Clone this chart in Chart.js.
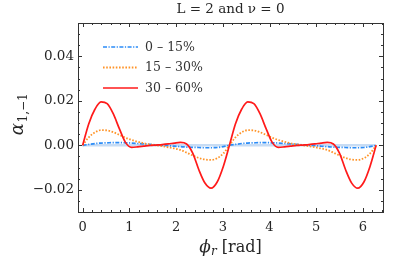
<!DOCTYPE html>
<html>
<head>
<meta charset="utf-8">
<script src="https://cdn.jsdelivr.net/npm/chart.js@4.4.0/dist/chart.umd.min.js"></script>
<style>
  html, body { margin: 0; padding: 0; background: #fff; }
</style>
</head>
<body>
<canvas id="chart" width="407" height="259"></canvas>
<script>
// phi_r samples (rad), step pi/24
const phi = [0, 0.131, 0.262, 0.393, 0.524, 0.654, 0.785, 0.916, 1.047, 1.178, 1.309, 1.440,
  1.571, 1.702, 1.833, 1.963, 2.094, 2.225, 2.356, 2.487, 2.618, 2.749, 2.880, 3.011,
  3.142, 3.272, 3.403, 3.534, 3.665, 3.796, 3.927, 4.058, 4.189, 4.320, 4.451, 4.581,
  4.712, 4.843, 4.974, 5.105, 5.236, 5.367, 5.498, 5.629, 5.760, 5.890, 6.021, 6.152, 6.283];

const cent0to15 = [0, 0.0004, 0.0008, 0.0010, 0.0011, 0.0012, 0.0012, 0.0011, 0.0010, 0.0008, 0.0006, 0.0004,
  0.0002, 0.0000, -0.0002, -0.0004, -0.0006, -0.0008, -0.0009, -0.0010, -0.0011, -0.0011, -0.0010, -0.0006,
  0, 0.0004, 0.0008, 0.0010, 0.0011, 0.0012, 0.0012, 0.0011, 0.0010, 0.0008, 0.0006, 0.0004,
  0.0002, 0.0000, -0.0002, -0.0004, -0.0006, -0.0008, -0.0009, -0.0010, -0.0011, -0.0011, -0.0010, -0.0006, 0];

const cent15to30 = [0, 0.0036, 0.0058, 0.0068, 0.0067, 0.0059, 0.0047, 0.0034, 0.0024, 0.0016, 0.0009, 0.0004,
  0.0000, -0.0004, -0.0009, -0.0014, -0.0021, -0.0033, -0.0046, -0.0057, -0.0064, -0.0066, -0.0058, -0.0037,
  0, 0.0036, 0.0058, 0.0068, 0.0067, 0.0059, 0.0047, 0.0034, 0.0024, 0.0016, 0.0009, 0.0004,
  0.0000, -0.0004, -0.0009, -0.0014, -0.0021, -0.0033, -0.0046, -0.0057, -0.0064, -0.0066, -0.0058, -0.0037, 0];

const cent30to60 = [0, 0.0097, 0.0162, 0.0195, 0.0187, 0.0142, 0.0075, 0.0013, -0.0009, -0.0007, -0.0004, -0.0001,
  0.0001, 0.0003, 0.0006, 0.0010, 0.0013, 0.0006, -0.0035, -0.0110, -0.0170, -0.0193, -0.0165, -0.0095,
  0, 0.0097, 0.0162, 0.0195, 0.0187, 0.0142, 0.0075, 0.0013, -0.0009, -0.0007, -0.0004, -0.0001,
  0.0001, 0.0003, 0.0006, 0.0010, 0.0013, 0.0006, -0.0035, -0.0110, -0.0170, -0.0193, -0.0165, -0.0095, 0];

const seriesLabels = ['0 \u2013 15%', '15 \u2013 30%', '30 \u2013 60%'];
const xTicks = [0, 1, 2, 3, 4, 5, 6];
const yTicks = [-0.02, 0, 0.02, 0.04];

const FONT = "'DejaVu Serif', serif";
const INK = '#262626';

const pts = (ys) => ys.map((y, i) => ({ x: phi[i], y }));

// frame + inward ticks on all four sides
const framePlugin = {
  id: 'frame',
  afterDatasetsDraw(chart) {
    const { ctx, chartArea: a, scales: { x, y } } = chart;
    ctx.save();
    ctx.strokeStyle = '#333';
    ctx.lineWidth = 1;
    ctx.beginPath();
    const tick = (px, len, vertical) => {
      if (vertical) {
        ctx.moveTo(px, a.bottom); ctx.lineTo(px, a.bottom - len);
        ctx.moveTo(px, a.top); ctx.lineTo(px, a.top + len);
      } else {
        ctx.moveTo(a.left, px); ctx.lineTo(a.left + len, px);
        ctx.moveTo(a.right, px); ctx.lineTo(a.right - len, px);
      }
    };
    for (let v = 0; v <= 6.41; v += 0.2) {
      const major = Math.abs(v - Math.round(v)) < 1e-6;
      tick(Math.round(x.getPixelForValue(v)) + 0.5, major ? 4 : 2, true);
    }
    for (let v = -0.025; v <= 0.0551; v += 0.005) {
      const major = Math.abs(v / 0.02 - Math.round(v / 0.02)) < 1e-6;
      tick(Math.round(y.getPixelForValue(v)) + 0.5, major ? 4 : 2, false);
    }
    ctx.stroke();
    ctx.strokeRect(Math.round(a.left) + 0.5, Math.round(a.top) + 0.5,
      Math.round(a.right - a.left), Math.round(a.bottom - a.top));
    ctx.restore();
  }
};

// legend inside the plot, axis labels with subscripts
const labelPlugin = {
  id: 'labels',
  afterDraw(chart) {
    const { ctx, chartArea: a } = chart;
    ctx.save();
    // legend
    const rows = [47, 67.5, 88];
    chart.data.datasets.slice(0, 3).forEach((ds, i) => {
      const yy = rows[i];
      ctx.strokeStyle = ds.borderColor;
      ctx.lineWidth = ds.borderWidth;
      ctx.setLineDash(ds.borderDash || []);
      ctx.beginPath();
      ctx.moveTo(103, yy); ctx.lineTo(138, yy);
      ctx.stroke();
      ctx.setLineDash([]);
      ctx.fillStyle = '#333';
      ctx.font = '12.5px ' + FONT;
      ctx.textBaseline = 'middle';
      ctx.textAlign = 'left';
      ctx.fillText(ds.label, 145, yy + 0.5);
    });

    ctx.fillStyle = INK;
    ctx.textBaseline = 'alphabetic';
    // x axis label: phi_r [rad]
    const cx = (a.left + a.right) / 2;
    ctx.font = 'italic 17px ' + FONT;
    const w1 = ctx.measureText('\u03d5').width;
    ctx.font = 'italic 12px ' + FONT;
    const w2 = ctx.measureText('r').width;
    ctx.font = '16px ' + FONT;
    const w3 = ctx.measureText(' [rad]').width;
    let sx = cx - (w1 + w2 + w3) / 2;
    const by = 252;
    ctx.font = 'italic 17px ' + FONT;
    ctx.fillText('\u03d5', sx, by); sx += w1;
    ctx.font = 'italic 12px ' + FONT;
    ctx.fillText('r', sx, by + 3); sx += w2;
    ctx.font = '16px ' + FONT;
    ctx.fillText(' [rad]', sx, by);

    // y axis label: alpha_{1,-1}
    ctx.translate(23, (a.top + a.bottom) / 2 - 3);
    ctx.rotate(-Math.PI / 2);
    ctx.font = 'italic 18px ' + FONT;
    const wa = ctx.measureText('\u03b1').width;
    ctx.font = '12px ' + FONT;
    const ws = ctx.measureText('1,\u22121').width;
    let tx = -(wa + ws) / 2;
    ctx.font = 'italic 18px ' + FONT;
    ctx.fillText('\u03b1', tx, 0); tx += wa + 0.5;
    ctx.font = '12px ' + FONT;
    ctx.fillText('1,\u22121', tx, 4);
    ctx.restore();
  }
};

new Chart(document.getElementById('chart'), {
  type: 'line',
  data: {
    datasets: [
      {
        label: seriesLabels[0],
        data: pts(cent0to15),
        borderColor: '#2b8cf7',
        borderWidth: 1.7,
        borderDash: [4, 1.5, 1.2, 1.5],
        order: 3,
      },
      {
        label: seriesLabels[1],
        data: pts(cent15to30),
        borderColor: '#ff9428',
        borderWidth: 1.8,
        borderDash: [1.6, 1.6],
        order: 2,
      },
      {
        label: seriesLabels[2],
        data: pts(cent30to60),
        borderColor: '#ff1a1a',
        borderWidth: 1.7,
        order: 1,
      },
      {
        label: 'zero',
        data: [{ x: phi[0], y: 0 }, { x: phi[phi.length - 1], y: 0 }],
        borderColor: 'rgba(175, 205, 240, 0.7)',
        borderWidth: 2.5,
        order: 4,
      },
    ],
  },
  options: {
    responsive: false,
    devicePixelRatio: 1,
    animation: false,
    layout: { padding: { left: 0, right: 24, top: 0, bottom: 0 } },
    elements: {
      point: { radius: 0 },
      line: { cubicInterpolationMode: 'monotone', fill: false },
    },
    plugins: {
      legend: { display: false },
      tooltip: { enabled: false },
      title: {
        display: true,
        fullSize: false,
        text: 'L = 2 and \u03bd = 0',
        color: INK,
        font: { family: FONT, size: 13.5, weight: 'normal' },
        padding: { top: 1.5, bottom: 5.3 },
      },
    },
    scales: {
      x: {
        type: 'linear',
        min: -0.1,
        max: 6.43,
        afterFit: (s) => { s.height = 47; },
        afterBuildTicks: (s) => { s.ticks = xTicks.map((v) => ({ value: v })); },
        grid: { display: false, drawTicks: false },
        border: { display: false },
        ticks: {
          color: INK,
          padding: 8,
          font: { family: FONT, size: 13 },
          callback: (v) => String(v),
        },
      },
      y: {
        type: 'linear',
        min: -0.03,
        max: 0.055,
        afterFit: (s) => { s.width = 78; },
        afterBuildTicks: (s) => { s.ticks = yTicks.map((v) => ({ value: v })); },
        grid: { display: false, drawTicks: false },
        border: { display: false },
        ticks: {
          color: INK,
          padding: 4,
          font: { family: FONT, size: 13.5 },
          callback: (v) => (v < 0 ? '\u2212' : '') + Math.abs(v).toFixed(2),
        },
      },
    },
  },
  plugins: [framePlugin, labelPlugin],
});
</script>
</body>
</html>
